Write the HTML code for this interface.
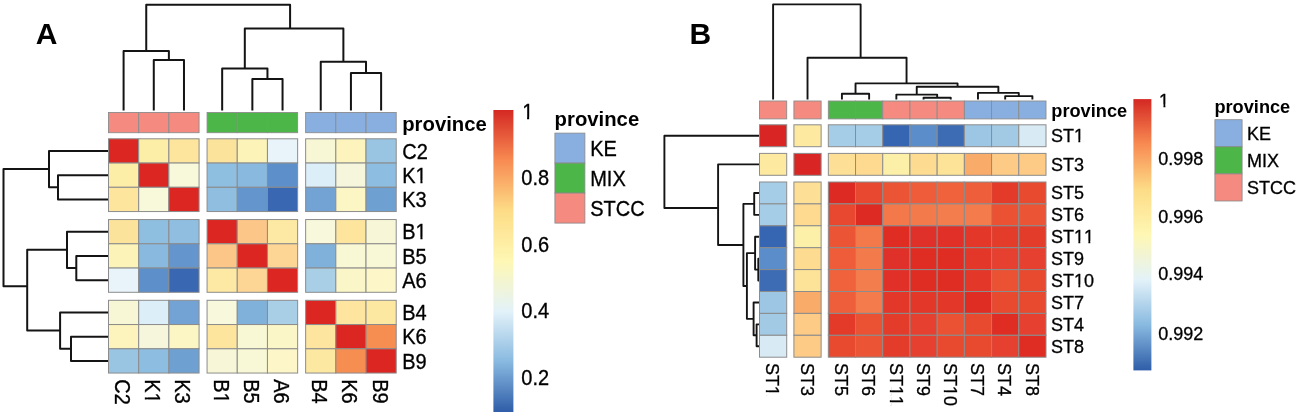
<!DOCTYPE html>
<html><head><meta charset="utf-8"><title>Heatmaps</title>
<style>
html,body{margin:0;padding:0;background:#fff;}
body{width:1299px;height:419px;overflow:hidden;}
svg{display:block;font-family:"Liberation Sans", sans-serif;will-change:transform;font-kerning:none;}
</style></head><body>
<svg width="1299" height="419" viewBox="0 0 1299 419">
<rect width="1299" height="419" fill="#fff"/>
<g transform="translate(35.8 43.8)"><text font-size="30" font-weight="bold" fill="#000">A</text></g>
<path d="M146.24 51.1V4.8H290.09V28.6 M123.59 110.6V51.1H168.88V60.1 M153.78 110.6V60.1H183.98V110.6 M244.81 68.5V28.6H343.38V61.8 M222.17 110.6V68.5H267.45V78.9 M252.36 110.6V78.9H282.55V110.6 M320.74 110.6V61.8H366.02V73 M350.93 110.6V73H381.12V110.6" fill="none" stroke="#141414" stroke-width="2.0" stroke-linejoin="round" stroke-linecap="butt"/>
<path d="M49 169.11H3.5V286.24H27.2 M108.6 150.93H49V187.3H58 M108.6 175.18H58V199.43H108.6 M67 249.86H27.2V330.61H60.1 M108.6 231.68H67V268.05H76.3 M108.6 255.93H76.3V280.18H108.6 M108.6 312.43H60.1V348.8H71 M108.6 336.68H71V360.93H108.6" fill="none" stroke="#141414" stroke-width="2.0" stroke-linejoin="round" stroke-linecap="butt"/>
<rect x="108.5" y="112.5" width="30.19" height="20.2" fill="#F48A80" stroke="#8c8c8c" stroke-width="0.9"/>
<rect x="138.69" y="112.5" width="30.19" height="20.2" fill="#F48A80" stroke="#8c8c8c" stroke-width="0.9"/>
<rect x="168.88" y="112.5" width="30.19" height="20.2" fill="#F48A80" stroke="#8c8c8c" stroke-width="0.9"/>
<rect x="207.07" y="112.5" width="30.19" height="20.2" fill="#4DB648" stroke="#8c8c8c" stroke-width="0.9"/>
<rect x="237.26" y="112.5" width="30.19" height="20.2" fill="#4DB648" stroke="#8c8c8c" stroke-width="0.9"/>
<rect x="267.45" y="112.5" width="30.19" height="20.2" fill="#4DB648" stroke="#8c8c8c" stroke-width="0.9"/>
<rect x="305.64" y="112.5" width="30.19" height="20.2" fill="#89AFE0" stroke="#8c8c8c" stroke-width="0.9"/>
<rect x="335.83" y="112.5" width="30.19" height="20.2" fill="#89AFE0" stroke="#8c8c8c" stroke-width="0.9"/>
<rect x="366.02" y="112.5" width="30.19" height="20.2" fill="#89AFE0" stroke="#8c8c8c" stroke-width="0.9"/>
<rect x="108.5" y="138.8" width="30.19" height="24.25" fill="#DB2622" stroke="#8c8c8c" stroke-width="1"/>
<rect x="138.69" y="138.8" width="30.19" height="24.25" fill="#FDEEA7" stroke="#8c8c8c" stroke-width="1"/>
<rect x="168.88" y="138.8" width="30.19" height="24.25" fill="#FDE59D" stroke="#8c8c8c" stroke-width="1"/>
<rect x="207.07" y="138.8" width="30.19" height="24.25" fill="#FCE39C" stroke="#8c8c8c" stroke-width="1"/>
<rect x="237.26" y="138.8" width="30.19" height="24.25" fill="#FBF3B7" stroke="#8c8c8c" stroke-width="1"/>
<rect x="267.45" y="138.8" width="30.19" height="24.25" fill="#E8F4F9" stroke="#8c8c8c" stroke-width="1"/>
<rect x="305.64" y="138.8" width="30.19" height="24.25" fill="#F8F7D5" stroke="#8c8c8c" stroke-width="1"/>
<rect x="335.83" y="138.8" width="30.19" height="24.25" fill="#FCF4BC" stroke="#8c8c8c" stroke-width="1"/>
<rect x="366.02" y="138.8" width="30.19" height="24.25" fill="#99C5E3" stroke="#8c8c8c" stroke-width="1"/>
<rect x="108.5" y="163.05" width="30.19" height="24.25" fill="#FDEEA7" stroke="#8c8c8c" stroke-width="1"/>
<rect x="138.69" y="163.05" width="30.19" height="24.25" fill="#DB2622" stroke="#8c8c8c" stroke-width="1"/>
<rect x="168.88" y="163.05" width="30.19" height="24.25" fill="#F8F8DB" stroke="#8c8c8c" stroke-width="1"/>
<rect x="207.07" y="163.05" width="30.19" height="24.25" fill="#8EBFE0" stroke="#8c8c8c" stroke-width="1"/>
<rect x="237.26" y="163.05" width="30.19" height="24.25" fill="#89B9DF" stroke="#8c8c8c" stroke-width="1"/>
<rect x="267.45" y="163.05" width="30.19" height="24.25" fill="#5D90CA" stroke="#8c8c8c" stroke-width="1"/>
<rect x="305.64" y="163.05" width="30.19" height="24.25" fill="#DCEEF8" stroke="#8c8c8c" stroke-width="1"/>
<rect x="335.83" y="163.05" width="30.19" height="24.25" fill="#F5F6DB" stroke="#8c8c8c" stroke-width="1"/>
<rect x="366.02" y="163.05" width="30.19" height="24.25" fill="#8DBDE0" stroke="#8c8c8c" stroke-width="1"/>
<rect x="108.5" y="187.3" width="30.19" height="24.25" fill="#FDE59D" stroke="#8c8c8c" stroke-width="1"/>
<rect x="138.69" y="187.3" width="30.19" height="24.25" fill="#F8F8DB" stroke="#8c8c8c" stroke-width="1"/>
<rect x="168.88" y="187.3" width="30.19" height="24.25" fill="#DB2622" stroke="#8c8c8c" stroke-width="1"/>
<rect x="207.07" y="187.3" width="30.19" height="24.25" fill="#8FBEE0" stroke="#8c8c8c" stroke-width="1"/>
<rect x="237.26" y="187.3" width="30.19" height="24.25" fill="#6495CD" stroke="#8c8c8c" stroke-width="1"/>
<rect x="267.45" y="187.3" width="30.19" height="24.25" fill="#3967B1" stroke="#8c8c8c" stroke-width="1"/>
<rect x="305.64" y="187.3" width="30.19" height="24.25" fill="#72A3D4" stroke="#8c8c8c" stroke-width="1"/>
<rect x="335.83" y="187.3" width="30.19" height="24.25" fill="#FCF6C4" stroke="#8c8c8c" stroke-width="1"/>
<rect x="366.02" y="187.3" width="30.19" height="24.25" fill="#6EA0D2" stroke="#8c8c8c" stroke-width="1"/>
<rect x="108.5" y="219.55" width="30.19" height="24.25" fill="#FCE39C" stroke="#8c8c8c" stroke-width="1"/>
<rect x="138.69" y="219.55" width="30.19" height="24.25" fill="#8EBFE0" stroke="#8c8c8c" stroke-width="1"/>
<rect x="168.88" y="219.55" width="30.19" height="24.25" fill="#8FBEE0" stroke="#8c8c8c" stroke-width="1"/>
<rect x="207.07" y="219.55" width="30.19" height="24.25" fill="#DB2622" stroke="#8c8c8c" stroke-width="1"/>
<rect x="237.26" y="219.55" width="30.19" height="24.25" fill="#FCC688" stroke="#8c8c8c" stroke-width="1"/>
<rect x="267.45" y="219.55" width="30.19" height="24.25" fill="#FDE9A3" stroke="#8c8c8c" stroke-width="1"/>
<rect x="305.64" y="219.55" width="30.19" height="24.25" fill="#F8F8DC" stroke="#8c8c8c" stroke-width="1"/>
<rect x="335.83" y="219.55" width="30.19" height="24.25" fill="#FDE59E" stroke="#8c8c8c" stroke-width="1"/>
<rect x="366.02" y="219.55" width="30.19" height="24.25" fill="#F7F7D8" stroke="#8c8c8c" stroke-width="1"/>
<rect x="108.5" y="243.8" width="30.19" height="24.25" fill="#FBF3B7" stroke="#8c8c8c" stroke-width="1"/>
<rect x="138.69" y="243.8" width="30.19" height="24.25" fill="#89B9DF" stroke="#8c8c8c" stroke-width="1"/>
<rect x="168.88" y="243.8" width="30.19" height="24.25" fill="#6495CD" stroke="#8c8c8c" stroke-width="1"/>
<rect x="207.07" y="243.8" width="30.19" height="24.25" fill="#FCC688" stroke="#8c8c8c" stroke-width="1"/>
<rect x="237.26" y="243.8" width="30.19" height="24.25" fill="#DB2622" stroke="#8c8c8c" stroke-width="1"/>
<rect x="267.45" y="243.8" width="30.19" height="24.25" fill="#FDD695" stroke="#8c8c8c" stroke-width="1"/>
<rect x="305.64" y="243.8" width="30.19" height="24.25" fill="#80B1DA" stroke="#8c8c8c" stroke-width="1"/>
<rect x="335.83" y="243.8" width="30.19" height="24.25" fill="#F9F8D4" stroke="#8c8c8c" stroke-width="1"/>
<rect x="366.02" y="243.8" width="30.19" height="24.25" fill="#F8F8D6" stroke="#8c8c8c" stroke-width="1"/>
<rect x="108.5" y="268.05" width="30.19" height="24.25" fill="#E8F4F9" stroke="#8c8c8c" stroke-width="1"/>
<rect x="138.69" y="268.05" width="30.19" height="24.25" fill="#5D90CA" stroke="#8c8c8c" stroke-width="1"/>
<rect x="168.88" y="268.05" width="30.19" height="24.25" fill="#3967B1" stroke="#8c8c8c" stroke-width="1"/>
<rect x="207.07" y="268.05" width="30.19" height="24.25" fill="#FDE9A3" stroke="#8c8c8c" stroke-width="1"/>
<rect x="237.26" y="268.05" width="30.19" height="24.25" fill="#FDD695" stroke="#8c8c8c" stroke-width="1"/>
<rect x="267.45" y="268.05" width="30.19" height="24.25" fill="#DB2622" stroke="#8c8c8c" stroke-width="1"/>
<rect x="305.64" y="268.05" width="30.19" height="24.25" fill="#A8CFE6" stroke="#8c8c8c" stroke-width="1"/>
<rect x="335.83" y="268.05" width="30.19" height="24.25" fill="#FBF6C8" stroke="#8c8c8c" stroke-width="1"/>
<rect x="366.02" y="268.05" width="30.19" height="24.25" fill="#FCF6C8" stroke="#8c8c8c" stroke-width="1"/>
<rect x="108.5" y="300.3" width="30.19" height="24.25" fill="#F8F7D5" stroke="#8c8c8c" stroke-width="1"/>
<rect x="138.69" y="300.3" width="30.19" height="24.25" fill="#DCEEF8" stroke="#8c8c8c" stroke-width="1"/>
<rect x="168.88" y="300.3" width="30.19" height="24.25" fill="#72A3D4" stroke="#8c8c8c" stroke-width="1"/>
<rect x="207.07" y="300.3" width="30.19" height="24.25" fill="#F8F8DC" stroke="#8c8c8c" stroke-width="1"/>
<rect x="237.26" y="300.3" width="30.19" height="24.25" fill="#80B1DA" stroke="#8c8c8c" stroke-width="1"/>
<rect x="267.45" y="300.3" width="30.19" height="24.25" fill="#A8CFE6" stroke="#8c8c8c" stroke-width="1"/>
<rect x="305.64" y="300.3" width="30.19" height="24.25" fill="#DB2622" stroke="#8c8c8c" stroke-width="1"/>
<rect x="335.83" y="300.3" width="30.19" height="24.25" fill="#FDE49F" stroke="#8c8c8c" stroke-width="1"/>
<rect x="366.02" y="300.3" width="30.19" height="24.25" fill="#FDE8A2" stroke="#8c8c8c" stroke-width="1"/>
<rect x="108.5" y="324.55" width="30.19" height="24.25" fill="#FCF4BC" stroke="#8c8c8c" stroke-width="1"/>
<rect x="138.69" y="324.55" width="30.19" height="24.25" fill="#F5F6DB" stroke="#8c8c8c" stroke-width="1"/>
<rect x="168.88" y="324.55" width="30.19" height="24.25" fill="#FCF6C4" stroke="#8c8c8c" stroke-width="1"/>
<rect x="207.07" y="324.55" width="30.19" height="24.25" fill="#FDE59E" stroke="#8c8c8c" stroke-width="1"/>
<rect x="237.26" y="324.55" width="30.19" height="24.25" fill="#F9F8D4" stroke="#8c8c8c" stroke-width="1"/>
<rect x="267.45" y="324.55" width="30.19" height="24.25" fill="#FBF6C8" stroke="#8c8c8c" stroke-width="1"/>
<rect x="305.64" y="324.55" width="30.19" height="24.25" fill="#FDE49F" stroke="#8c8c8c" stroke-width="1"/>
<rect x="335.83" y="324.55" width="30.19" height="24.25" fill="#DB2622" stroke="#8c8c8c" stroke-width="1"/>
<rect x="366.02" y="324.55" width="30.19" height="24.25" fill="#F58E50" stroke="#8c8c8c" stroke-width="1"/>
<rect x="108.5" y="348.8" width="30.19" height="24.25" fill="#99C5E3" stroke="#8c8c8c" stroke-width="1"/>
<rect x="138.69" y="348.8" width="30.19" height="24.25" fill="#8DBDE0" stroke="#8c8c8c" stroke-width="1"/>
<rect x="168.88" y="348.8" width="30.19" height="24.25" fill="#6EA0D2" stroke="#8c8c8c" stroke-width="1"/>
<rect x="207.07" y="348.8" width="30.19" height="24.25" fill="#F7F7D8" stroke="#8c8c8c" stroke-width="1"/>
<rect x="237.26" y="348.8" width="30.19" height="24.25" fill="#F8F8D6" stroke="#8c8c8c" stroke-width="1"/>
<rect x="267.45" y="348.8" width="30.19" height="24.25" fill="#FCF6C8" stroke="#8c8c8c" stroke-width="1"/>
<rect x="305.64" y="348.8" width="30.19" height="24.25" fill="#FDE8A2" stroke="#8c8c8c" stroke-width="1"/>
<rect x="335.83" y="348.8" width="30.19" height="24.25" fill="#F58E50" stroke="#8c8c8c" stroke-width="1"/>
<rect x="366.02" y="348.8" width="30.19" height="24.25" fill="#DB2622" stroke="#8c8c8c" stroke-width="1"/>
<g transform="translate(402.2 158.53) scale(1 1.06)"><text font-size="20" stroke="#000" stroke-width="0.3" fill="#000">C2</text></g>
<g transform="translate(402.2 182.78) scale(1 1.06)"><text font-size="20" stroke="#000" stroke-width="0.3" fill="#000">K1</text><rect x="13.73" y="-2.24" width="4.48" height="3.84" fill="#fff"/><rect x="20.3" y="-2.24" width="4.04" height="3.84" fill="#fff"/></g>
<g transform="translate(402.2 207.03) scale(1 1.06)"><text font-size="20" stroke="#000" stroke-width="0.3" fill="#000">K3</text></g>
<g transform="translate(402.2 239.28) scale(1 1.06)"><text font-size="20" stroke="#000" stroke-width="0.3" fill="#000">B1</text><rect x="13.73" y="-2.24" width="4.48" height="3.84" fill="#fff"/><rect x="20.3" y="-2.24" width="4.04" height="3.84" fill="#fff"/></g>
<g transform="translate(402.2 263.53) scale(1 1.06)"><text font-size="20" stroke="#000" stroke-width="0.3" fill="#000">B5</text></g>
<g transform="translate(402.2 287.78) scale(1 1.06)"><text font-size="20" stroke="#000" stroke-width="0.3" fill="#000">A6</text></g>
<g transform="translate(402.2 320.03) scale(1 1.06)"><text font-size="20" stroke="#000" stroke-width="0.3" fill="#000">B4</text></g>
<g transform="translate(402.2 344.28) scale(1 1.06)"><text font-size="20" stroke="#000" stroke-width="0.3" fill="#000">K6</text></g>
<g transform="translate(402.2 368.53) scale(1 1.06)"><text font-size="20" stroke="#000" stroke-width="0.3" fill="#000">B9</text></g>
<g transform="translate(402.2 130.5) scale(1 1.02)"><text font-size="20.3" font-weight="bold" fill="#000">province</text></g>
<g transform="translate(115.09 379.2) rotate(90) scale(1 1.06)"><text font-size="20" stroke="#000" stroke-width="0.3" fill="#000">C2</text></g>
<g transform="translate(145.28 379.2) rotate(90) scale(1 1.06)"><text font-size="20" stroke="#000" stroke-width="0.3" fill="#000">K1</text><rect x="13.73" y="-2.24" width="4.48" height="3.84" fill="#fff"/><rect x="20.3" y="-2.24" width="4.04" height="3.84" fill="#fff"/></g>
<g transform="translate(175.47 379.2) rotate(90) scale(1 1.06)"><text font-size="20" stroke="#000" stroke-width="0.3" fill="#000">K3</text></g>
<g transform="translate(213.66 379.2) rotate(90) scale(1 1.06)"><text font-size="20" stroke="#000" stroke-width="0.3" fill="#000">B1</text><rect x="13.73" y="-2.24" width="4.48" height="3.84" fill="#fff"/><rect x="20.3" y="-2.24" width="4.04" height="3.84" fill="#fff"/></g>
<g transform="translate(243.85 379.2) rotate(90) scale(1 1.06)"><text font-size="20" stroke="#000" stroke-width="0.3" fill="#000">B5</text></g>
<g transform="translate(274.05 379.2) rotate(90) scale(1 1.06)"><text font-size="20" stroke="#000" stroke-width="0.3" fill="#000">A6</text></g>
<g transform="translate(312.24 379.2) rotate(90) scale(1 1.06)"><text font-size="20" stroke="#000" stroke-width="0.3" fill="#000">B4</text></g>
<g transform="translate(342.43 379.2) rotate(90) scale(1 1.06)"><text font-size="20" stroke="#000" stroke-width="0.3" fill="#000">K6</text></g>
<g transform="translate(372.62 379.2) rotate(90) scale(1 1.06)"><text font-size="20" stroke="#000" stroke-width="0.3" fill="#000">B9</text></g>
<defs><linearGradient id="gA" x1="0" y1="1" x2="0" y2="0"><stop offset="0" stop-color="#2F5DA8"/><stop offset="0.1667" stop-color="#88B9E0"/><stop offset="0.3333" stop-color="#E3F2F9"/><stop offset="0.5" stop-color="#FEF7B4"/><stop offset="0.6667" stop-color="#FDDC86"/><stop offset="0.8333" stop-color="#F88B52"/><stop offset="1" stop-color="#D42823"/></linearGradient><linearGradient id="gB" x1="0" y1="1" x2="0" y2="0"><stop offset="0" stop-color="#2F5DA8"/><stop offset="0.1667" stop-color="#88B9E0"/><stop offset="0.3333" stop-color="#E3F2F9"/><stop offset="0.5" stop-color="#FEF7B4"/><stop offset="0.6667" stop-color="#FDDC86"/><stop offset="0.8333" stop-color="#F88B52"/><stop offset="1" stop-color="#D42823"/></linearGradient></defs>
<rect x="493.4" y="110" width="20" height="302" fill="url(#gA)"/>
<g transform="translate(522.2 119.2) scale(1 1.06)"><text font-size="20" stroke="#000" stroke-width="0.3" fill="#000">1</text><rect x="0.39" y="-2.24" width="4.48" height="3.84" fill="#fff"/><rect x="6.96" y="-2.24" width="4.04" height="3.84" fill="#fff"/></g>
<g transform="translate(521.3 185.2) scale(1 1.06)"><text font-size="20" stroke="#000" stroke-width="0.3" fill="#000">0.8</text></g>
<g transform="translate(521.3 251.5) scale(1 1.06)"><text font-size="20" stroke="#000" stroke-width="0.3" fill="#000">0.6</text></g>
<g transform="translate(521.3 318.4) scale(1 1.06)"><text font-size="20" stroke="#000" stroke-width="0.3" fill="#000">0.4</text></g>
<g transform="translate(521.3 384.5) scale(1 1.06)"><text font-size="20" stroke="#000" stroke-width="0.3" fill="#000">0.2</text></g>
<g transform="translate(554.6 126) scale(1 1.02)"><text font-size="20.3" font-weight="bold" fill="#000">province</text></g>
<rect x="554.9" y="133.1" width="30" height="30" fill="#89AFE0" stroke="#888" stroke-width="0.8"/>
<g transform="translate(590.2 155.5) scale(1 1.06)"><text font-size="20" stroke="#000" stroke-width="0.3" fill="#000">KE</text></g>
<rect x="554.9" y="163.1" width="30" height="30" fill="#4DB648" stroke="#888" stroke-width="0.8"/>
<g transform="translate(590.2 185.5) scale(1 1.06)"><text font-size="20" stroke="#000" stroke-width="0.3" fill="#000">MIX</text></g>
<rect x="554.9" y="193.1" width="30" height="30" fill="#F48A80" stroke="#888" stroke-width="0.8"/>
<g transform="translate(590.2 215.5) scale(1 1.06)"><text font-size="20" stroke="#000" stroke-width="0.3" fill="#000">STCC</text></g>
<g transform="translate(689.4 43.8)"><text font-size="30" font-weight="bold" fill="#000">B</text></g>
<path d="M773.11 99.6V4.4H860.63V57.8 M807.52 99.6V57.8H906.55V83.4 M855.53 93.8V83.4H957.57V86.8 M841.92 99.6V93.8H869.13V99.6 M916.75 94.6V86.8H998.38V92.9 M896.35 99.6V94.6H937.16V97.8 M923.55 99.6V97.8H950.76V99.6 M977.98 99.6V92.9H1018.79V96.1 M1005.18 99.6V96.1H1032.39V99.6" fill="none" stroke="#141414" stroke-width="1.9" stroke-linejoin="round" stroke-linecap="butt"/>
<path d="M759.5 135.75H664.4V208.01H718.1 M759.5 164.35H718.1V244.96H743.4 M754.2 203.9H743.4V286.02H746.9 M759.5 192.95H754.2V214.85H759.5 M755.1 253.17H746.9V318.87H753.6 M759.5 236.75H755.1V269.6H758.3 M759.5 258.65H758.3V280.55H759.5 M759.5 302.45H753.6V335.3H756.6 M759.5 324.35H756.6V346.25H759.5" fill="none" stroke="#141414" stroke-width="1.9" stroke-linejoin="round" stroke-linecap="butt"/>
<rect x="759.5" y="101" width="27.21" height="17.9" fill="#F48A80" stroke="#8c8c8c" stroke-width="0.9"/>
<rect x="793.91" y="101" width="27.21" height="17.9" fill="#F48A80" stroke="#8c8c8c" stroke-width="0.9"/>
<rect x="828.32" y="101" width="27.21" height="17.9" fill="#4DB648" stroke="#8c8c8c" stroke-width="0.9"/>
<rect x="855.53" y="101" width="27.21" height="17.9" fill="#4DB648" stroke="#8c8c8c" stroke-width="0.9"/>
<rect x="882.74" y="101" width="27.21" height="17.9" fill="#F48A80" stroke="#8c8c8c" stroke-width="0.9"/>
<rect x="909.95" y="101" width="27.21" height="17.9" fill="#F48A80" stroke="#8c8c8c" stroke-width="0.9"/>
<rect x="937.16" y="101" width="27.21" height="17.9" fill="#F48A80" stroke="#8c8c8c" stroke-width="0.9"/>
<rect x="964.37" y="101" width="27.21" height="17.9" fill="#89AFE0" stroke="#8c8c8c" stroke-width="0.9"/>
<rect x="991.58" y="101" width="27.21" height="17.9" fill="#89AFE0" stroke="#8c8c8c" stroke-width="0.9"/>
<rect x="1018.79" y="101" width="27.21" height="17.9" fill="#89AFE0" stroke="#8c8c8c" stroke-width="0.9"/>
<rect x="759.5" y="124.8" width="27.21" height="21.9" fill="#D92523" stroke="#8c8c8c" stroke-width="1"/>
<rect x="793.91" y="124.8" width="27.21" height="21.9" fill="#FDE9A0" stroke="#8c8c8c" stroke-width="1"/>
<rect x="828.32" y="124.8" width="27.21" height="21.9" fill="#A6CDE8" stroke="#8c8c8c" stroke-width="1"/>
<rect x="855.53" y="124.8" width="27.21" height="21.9" fill="#A6CDE8" stroke="#8c8c8c" stroke-width="1"/>
<rect x="882.74" y="124.8" width="27.21" height="21.9" fill="#3666B1" stroke="#8c8c8c" stroke-width="1"/>
<rect x="909.95" y="124.8" width="27.21" height="21.9" fill="#5A8DC9" stroke="#8c8c8c" stroke-width="1"/>
<rect x="937.16" y="124.8" width="27.21" height="21.9" fill="#3D6CB4" stroke="#8c8c8c" stroke-width="1"/>
<rect x="964.37" y="124.8" width="27.21" height="21.9" fill="#9CC6E4" stroke="#8c8c8c" stroke-width="1"/>
<rect x="991.58" y="124.8" width="27.21" height="21.9" fill="#A2CAE5" stroke="#8c8c8c" stroke-width="1"/>
<rect x="1018.79" y="124.8" width="27.21" height="21.9" fill="#D8EAF4" stroke="#8c8c8c" stroke-width="1"/>
<rect x="759.5" y="153.4" width="27.21" height="21.9" fill="#FDE9A0" stroke="#8c8c8c" stroke-width="1"/>
<rect x="793.91" y="153.4" width="27.21" height="21.9" fill="#D92523" stroke="#8c8c8c" stroke-width="1"/>
<rect x="828.32" y="153.4" width="27.21" height="21.9" fill="#FDDF95" stroke="#8c8c8c" stroke-width="1"/>
<rect x="855.53" y="153.4" width="27.21" height="21.9" fill="#FDDA90" stroke="#8c8c8c" stroke-width="1"/>
<rect x="882.74" y="153.4" width="27.21" height="21.9" fill="#FCF0A8" stroke="#8c8c8c" stroke-width="1"/>
<rect x="909.95" y="153.4" width="27.21" height="21.9" fill="#FDDC92" stroke="#8c8c8c" stroke-width="1"/>
<rect x="937.16" y="153.4" width="27.21" height="21.9" fill="#FDE398" stroke="#8c8c8c" stroke-width="1"/>
<rect x="964.37" y="153.4" width="27.21" height="21.9" fill="#F9AB6A" stroke="#8c8c8c" stroke-width="1"/>
<rect x="991.58" y="153.4" width="27.21" height="21.9" fill="#FDCB85" stroke="#8c8c8c" stroke-width="1"/>
<rect x="1018.79" y="153.4" width="27.21" height="21.9" fill="#FDCB85" stroke="#8c8c8c" stroke-width="1"/>
<rect x="759.5" y="182" width="27.21" height="21.9" fill="#A6CDE8" stroke="#8c8c8c" stroke-width="1"/>
<rect x="793.91" y="182" width="27.21" height="21.9" fill="#FDDF95" stroke="#8c8c8c" stroke-width="1"/>
<rect x="828.32" y="182" width="27.21" height="21.9" fill="#DD2A22" stroke="#8c8c8c" stroke-width="1"/>
<rect x="855.53" y="182" width="27.21" height="21.9" fill="#E8482F" stroke="#8c8c8c" stroke-width="1"/>
<rect x="882.74" y="182" width="27.21" height="21.9" fill="#EB5535" stroke="#8c8c8c" stroke-width="1"/>
<rect x="909.95" y="182" width="27.21" height="21.9" fill="#EE5C39" stroke="#8c8c8c" stroke-width="1"/>
<rect x="937.16" y="182" width="27.21" height="21.9" fill="#EF623C" stroke="#8c8c8c" stroke-width="1"/>
<rect x="964.37" y="182" width="27.21" height="21.9" fill="#EF5E3A" stroke="#8c8c8c" stroke-width="1"/>
<rect x="991.58" y="182" width="27.21" height="21.9" fill="#E33A2A" stroke="#8c8c8c" stroke-width="1"/>
<rect x="1018.79" y="182" width="27.21" height="21.9" fill="#E84A30" stroke="#8c8c8c" stroke-width="1"/>
<rect x="759.5" y="203.9" width="27.21" height="21.9" fill="#A6CDE8" stroke="#8c8c8c" stroke-width="1"/>
<rect x="793.91" y="203.9" width="27.21" height="21.9" fill="#FDDA90" stroke="#8c8c8c" stroke-width="1"/>
<rect x="828.32" y="203.9" width="27.21" height="21.9" fill="#E8482F" stroke="#8c8c8c" stroke-width="1"/>
<rect x="855.53" y="203.9" width="27.21" height="21.9" fill="#DD2A22" stroke="#8c8c8c" stroke-width="1"/>
<rect x="882.74" y="203.9" width="27.21" height="21.9" fill="#F3784A" stroke="#8c8c8c" stroke-width="1"/>
<rect x="909.95" y="203.9" width="27.21" height="21.9" fill="#F37A4B" stroke="#8c8c8c" stroke-width="1"/>
<rect x="937.16" y="203.9" width="27.21" height="21.9" fill="#F47D4E" stroke="#8c8c8c" stroke-width="1"/>
<rect x="964.37" y="203.9" width="27.21" height="21.9" fill="#F47B4C" stroke="#8c8c8c" stroke-width="1"/>
<rect x="991.58" y="203.9" width="27.21" height="21.9" fill="#EA5233" stroke="#8c8c8c" stroke-width="1"/>
<rect x="1018.79" y="203.9" width="27.21" height="21.9" fill="#EB5535" stroke="#8c8c8c" stroke-width="1"/>
<rect x="759.5" y="225.8" width="27.21" height="21.9" fill="#3666B1" stroke="#8c8c8c" stroke-width="1"/>
<rect x="793.91" y="225.8" width="27.21" height="21.9" fill="#FCF0A8" stroke="#8c8c8c" stroke-width="1"/>
<rect x="828.32" y="225.8" width="27.21" height="21.9" fill="#EB5535" stroke="#8c8c8c" stroke-width="1"/>
<rect x="855.53" y="225.8" width="27.21" height="21.9" fill="#F3784A" stroke="#8c8c8c" stroke-width="1"/>
<rect x="882.74" y="225.8" width="27.21" height="21.9" fill="#DF2D24" stroke="#8c8c8c" stroke-width="1"/>
<rect x="909.95" y="225.8" width="27.21" height="21.9" fill="#E0302A" stroke="#8c8c8c" stroke-width="1"/>
<rect x="937.16" y="225.8" width="27.21" height="21.9" fill="#E03027" stroke="#8c8c8c" stroke-width="1"/>
<rect x="964.37" y="225.8" width="27.21" height="21.9" fill="#E3372A" stroke="#8c8c8c" stroke-width="1"/>
<rect x="991.58" y="225.8" width="27.21" height="21.9" fill="#E43C2B" stroke="#8c8c8c" stroke-width="1"/>
<rect x="1018.79" y="225.8" width="27.21" height="21.9" fill="#E43C2B" stroke="#8c8c8c" stroke-width="1"/>
<rect x="759.5" y="247.7" width="27.21" height="21.9" fill="#5A8DC9" stroke="#8c8c8c" stroke-width="1"/>
<rect x="793.91" y="247.7" width="27.21" height="21.9" fill="#FDDC92" stroke="#8c8c8c" stroke-width="1"/>
<rect x="828.32" y="247.7" width="27.21" height="21.9" fill="#EE5C39" stroke="#8c8c8c" stroke-width="1"/>
<rect x="855.53" y="247.7" width="27.21" height="21.9" fill="#F37A4B" stroke="#8c8c8c" stroke-width="1"/>
<rect x="882.74" y="247.7" width="27.21" height="21.9" fill="#E0302A" stroke="#8c8c8c" stroke-width="1"/>
<rect x="909.95" y="247.7" width="27.21" height="21.9" fill="#DF2D24" stroke="#8c8c8c" stroke-width="1"/>
<rect x="937.16" y="247.7" width="27.21" height="21.9" fill="#DF2D24" stroke="#8c8c8c" stroke-width="1"/>
<rect x="964.37" y="247.7" width="27.21" height="21.9" fill="#E3372A" stroke="#8c8c8c" stroke-width="1"/>
<rect x="991.58" y="247.7" width="27.21" height="21.9" fill="#E64030" stroke="#8c8c8c" stroke-width="1"/>
<rect x="1018.79" y="247.7" width="27.21" height="21.9" fill="#E64030" stroke="#8c8c8c" stroke-width="1"/>
<rect x="759.5" y="269.6" width="27.21" height="21.9" fill="#3D6CB4" stroke="#8c8c8c" stroke-width="1"/>
<rect x="793.91" y="269.6" width="27.21" height="21.9" fill="#FDE398" stroke="#8c8c8c" stroke-width="1"/>
<rect x="828.32" y="269.6" width="27.21" height="21.9" fill="#EF623C" stroke="#8c8c8c" stroke-width="1"/>
<rect x="855.53" y="269.6" width="27.21" height="21.9" fill="#F47D4E" stroke="#8c8c8c" stroke-width="1"/>
<rect x="882.74" y="269.6" width="27.21" height="21.9" fill="#E03027" stroke="#8c8c8c" stroke-width="1"/>
<rect x="909.95" y="269.6" width="27.21" height="21.9" fill="#DF2D24" stroke="#8c8c8c" stroke-width="1"/>
<rect x="937.16" y="269.6" width="27.21" height="21.9" fill="#DF2D24" stroke="#8c8c8c" stroke-width="1"/>
<rect x="964.37" y="269.6" width="27.21" height="21.9" fill="#E3372A" stroke="#8c8c8c" stroke-width="1"/>
<rect x="991.58" y="269.6" width="27.21" height="21.9" fill="#EA5233" stroke="#8c8c8c" stroke-width="1"/>
<rect x="1018.79" y="269.6" width="27.21" height="21.9" fill="#E84A30" stroke="#8c8c8c" stroke-width="1"/>
<rect x="759.5" y="291.5" width="27.21" height="21.9" fill="#9CC6E4" stroke="#8c8c8c" stroke-width="1"/>
<rect x="793.91" y="291.5" width="27.21" height="21.9" fill="#F9AB6A" stroke="#8c8c8c" stroke-width="1"/>
<rect x="828.32" y="291.5" width="27.21" height="21.9" fill="#EF5E3A" stroke="#8c8c8c" stroke-width="1"/>
<rect x="855.53" y="291.5" width="27.21" height="21.9" fill="#F47B4C" stroke="#8c8c8c" stroke-width="1"/>
<rect x="882.74" y="291.5" width="27.21" height="21.9" fill="#E3372A" stroke="#8c8c8c" stroke-width="1"/>
<rect x="909.95" y="291.5" width="27.21" height="21.9" fill="#E3372A" stroke="#8c8c8c" stroke-width="1"/>
<rect x="937.16" y="291.5" width="27.21" height="21.9" fill="#E3372A" stroke="#8c8c8c" stroke-width="1"/>
<rect x="964.37" y="291.5" width="27.21" height="21.9" fill="#DF2D24" stroke="#8c8c8c" stroke-width="1"/>
<rect x="991.58" y="291.5" width="27.21" height="21.9" fill="#E84A30" stroke="#8c8c8c" stroke-width="1"/>
<rect x="1018.79" y="291.5" width="27.21" height="21.9" fill="#E84A30" stroke="#8c8c8c" stroke-width="1"/>
<rect x="759.5" y="313.4" width="27.21" height="21.9" fill="#A2CAE5" stroke="#8c8c8c" stroke-width="1"/>
<rect x="793.91" y="313.4" width="27.21" height="21.9" fill="#FDCB85" stroke="#8c8c8c" stroke-width="1"/>
<rect x="828.32" y="313.4" width="27.21" height="21.9" fill="#E33A2A" stroke="#8c8c8c" stroke-width="1"/>
<rect x="855.53" y="313.4" width="27.21" height="21.9" fill="#EA5233" stroke="#8c8c8c" stroke-width="1"/>
<rect x="882.74" y="313.4" width="27.21" height="21.9" fill="#E43C2B" stroke="#8c8c8c" stroke-width="1"/>
<rect x="909.95" y="313.4" width="27.21" height="21.9" fill="#E64030" stroke="#8c8c8c" stroke-width="1"/>
<rect x="937.16" y="313.4" width="27.21" height="21.9" fill="#EA5233" stroke="#8c8c8c" stroke-width="1"/>
<rect x="964.37" y="313.4" width="27.21" height="21.9" fill="#E84A30" stroke="#8c8c8c" stroke-width="1"/>
<rect x="991.58" y="313.4" width="27.21" height="21.9" fill="#DF2D24" stroke="#8c8c8c" stroke-width="1"/>
<rect x="1018.79" y="313.4" width="27.21" height="21.9" fill="#E64030" stroke="#8c8c8c" stroke-width="1"/>
<rect x="759.5" y="335.3" width="27.21" height="21.9" fill="#D8EAF4" stroke="#8c8c8c" stroke-width="1"/>
<rect x="793.91" y="335.3" width="27.21" height="21.9" fill="#FDCB85" stroke="#8c8c8c" stroke-width="1"/>
<rect x="828.32" y="335.3" width="27.21" height="21.9" fill="#E84A30" stroke="#8c8c8c" stroke-width="1"/>
<rect x="855.53" y="335.3" width="27.21" height="21.9" fill="#EB5535" stroke="#8c8c8c" stroke-width="1"/>
<rect x="882.74" y="335.3" width="27.21" height="21.9" fill="#E43C2B" stroke="#8c8c8c" stroke-width="1"/>
<rect x="909.95" y="335.3" width="27.21" height="21.9" fill="#E64030" stroke="#8c8c8c" stroke-width="1"/>
<rect x="937.16" y="335.3" width="27.21" height="21.9" fill="#E84A30" stroke="#8c8c8c" stroke-width="1"/>
<rect x="964.37" y="335.3" width="27.21" height="21.9" fill="#E84A30" stroke="#8c8c8c" stroke-width="1"/>
<rect x="991.58" y="335.3" width="27.21" height="21.9" fill="#E64030" stroke="#8c8c8c" stroke-width="1"/>
<rect x="1018.79" y="335.3" width="27.21" height="21.9" fill="#DF2D24" stroke="#8c8c8c" stroke-width="1"/>
<g transform="translate(1051 142.05) scale(1 1.06)"><text font-size="18" stroke="#000" stroke-width="0.3" fill="#000">ST1</text><rect x="23.35" y="-2.09" width="4.01" height="3.69" fill="#fff"/><rect x="29.28" y="-2.09" width="3.64" height="3.69" fill="#fff"/></g>
<g transform="translate(1051 170.65) scale(1 1.06)"><text font-size="18" stroke="#000" stroke-width="0.3" fill="#000">ST3</text></g>
<g transform="translate(1051 199.25) scale(1 1.06)"><text font-size="18" stroke="#000" stroke-width="0.3" fill="#000">ST5</text></g>
<g transform="translate(1051 221.15) scale(1 1.06)"><text font-size="18" stroke="#000" stroke-width="0.3" fill="#000">ST6</text></g>
<g transform="translate(1051 243.05) scale(1 1.06)"><text font-size="18" stroke="#000" stroke-width="0.3" fill="#000">ST11</text><rect x="23.35" y="-2.09" width="4.01" height="3.69" fill="#fff"/><rect x="29.28" y="-2.09" width="3.64" height="3.69" fill="#fff"/><rect x="33.36" y="-2.09" width="4.01" height="3.69" fill="#fff"/><rect x="39.29" y="-2.09" width="3.64" height="3.69" fill="#fff"/></g>
<g transform="translate(1051 264.95) scale(1 1.06)"><text font-size="18" stroke="#000" stroke-width="0.3" fill="#000">ST9</text></g>
<g transform="translate(1051 286.85) scale(1 1.06)"><text font-size="18" stroke="#000" stroke-width="0.3" fill="#000">ST10</text><rect x="23.35" y="-2.09" width="4.01" height="3.69" fill="#fff"/><rect x="29.28" y="-2.09" width="3.64" height="3.69" fill="#fff"/></g>
<g transform="translate(1051 308.75) scale(1 1.06)"><text font-size="18" stroke="#000" stroke-width="0.3" fill="#000">ST7</text></g>
<g transform="translate(1051 330.65) scale(1 1.06)"><text font-size="18" stroke="#000" stroke-width="0.3" fill="#000">ST4</text></g>
<g transform="translate(1051 352.55) scale(1 1.06)"><text font-size="18" stroke="#000" stroke-width="0.3" fill="#000">ST8</text></g>
<g transform="translate(1051.3 117.2) scale(1 1.02)"><text font-size="18.2" font-weight="bold" fill="#000">province</text></g>
<g transform="translate(766.41 362.9) rotate(90) scale(1 1.06)"><text font-size="18" stroke="#000" stroke-width="0.3" fill="#000">ST1</text><rect x="23.35" y="-2.09" width="4.01" height="3.69" fill="#fff"/><rect x="29.28" y="-2.09" width="3.64" height="3.69" fill="#fff"/></g>
<g transform="translate(800.82 362.9) rotate(90) scale(1 1.06)"><text font-size="18" stroke="#000" stroke-width="0.3" fill="#000">ST3</text></g>
<g transform="translate(835.23 362.9) rotate(90) scale(1 1.06)"><text font-size="18" stroke="#000" stroke-width="0.3" fill="#000">ST5</text></g>
<g transform="translate(862.44 362.9) rotate(90) scale(1 1.06)"><text font-size="18" stroke="#000" stroke-width="0.3" fill="#000">ST6</text></g>
<g transform="translate(889.65 362.9) rotate(90) scale(1 1.06)"><text font-size="18" stroke="#000" stroke-width="0.3" fill="#000">ST11</text><rect x="23.35" y="-2.09" width="4.01" height="3.69" fill="#fff"/><rect x="29.28" y="-2.09" width="3.64" height="3.69" fill="#fff"/><rect x="33.36" y="-2.09" width="4.01" height="3.69" fill="#fff"/><rect x="39.29" y="-2.09" width="3.64" height="3.69" fill="#fff"/></g>
<g transform="translate(916.86 362.9) rotate(90) scale(1 1.06)"><text font-size="18" stroke="#000" stroke-width="0.3" fill="#000">ST9</text></g>
<g transform="translate(944.07 362.9) rotate(90) scale(1 1.06)"><text font-size="18" stroke="#000" stroke-width="0.3" fill="#000">ST10</text><rect x="23.35" y="-2.09" width="4.01" height="3.69" fill="#fff"/><rect x="29.28" y="-2.09" width="3.64" height="3.69" fill="#fff"/></g>
<g transform="translate(971.28 362.9) rotate(90) scale(1 1.06)"><text font-size="18" stroke="#000" stroke-width="0.3" fill="#000">ST7</text></g>
<g transform="translate(998.49 362.9) rotate(90) scale(1 1.06)"><text font-size="18" stroke="#000" stroke-width="0.3" fill="#000">ST4</text></g>
<g transform="translate(1025.69 362.9) rotate(90) scale(1 1.06)"><text font-size="18" stroke="#000" stroke-width="0.3" fill="#000">ST8</text></g>
<rect x="1133.4" y="99.1" width="18" height="271.3" fill="url(#gB)"/>
<g transform="translate(1159.1 106.8) scale(1 1.06)"><text font-size="18" stroke="#000" stroke-width="0.3" fill="#000">1</text><rect x="0.35" y="-2.09" width="4.01" height="3.69" fill="#fff"/><rect x="6.28" y="-2.09" width="3.64" height="3.69" fill="#fff"/></g>
<g transform="translate(1158.3 165.1) scale(1 1.06)"><text font-size="18" stroke="#000" stroke-width="0.3" fill="#000">0.998</text></g>
<g transform="translate(1158.3 222.5) scale(1 1.06)"><text font-size="18" stroke="#000" stroke-width="0.3" fill="#000">0.996</text></g>
<g transform="translate(1158.3 280.4) scale(1 1.06)"><text font-size="18" stroke="#000" stroke-width="0.3" fill="#000">0.994</text></g>
<g transform="translate(1158.3 339.5) scale(1 1.06)"><text font-size="18" stroke="#000" stroke-width="0.3" fill="#000">0.992</text></g>
<g transform="translate(1214.4 113) scale(1 1.02)"><text font-size="18.2" font-weight="bold" fill="#000">province</text></g>
<rect x="1214.9" y="119.7" width="27.2" height="27.1" fill="#89AFE0" stroke="#888" stroke-width="0.8"/>
<g transform="translate(1247 139.85) scale(1 1.06)"><text font-size="18" stroke="#000" stroke-width="0.3" fill="#000">KE</text></g>
<rect x="1214.9" y="146.8" width="27.2" height="27.1" fill="#4DB648" stroke="#888" stroke-width="0.8"/>
<g transform="translate(1247 166.95) scale(1 1.06)"><text font-size="18" stroke="#000" stroke-width="0.3" fill="#000">MIX</text></g>
<rect x="1214.9" y="173.9" width="27.2" height="27.1" fill="#F48A80" stroke="#888" stroke-width="0.8"/>
<g transform="translate(1247 194.05) scale(1 1.06)"><text font-size="18" stroke="#000" stroke-width="0.3" fill="#000">STCC</text></g>
</svg>
</body></html>
